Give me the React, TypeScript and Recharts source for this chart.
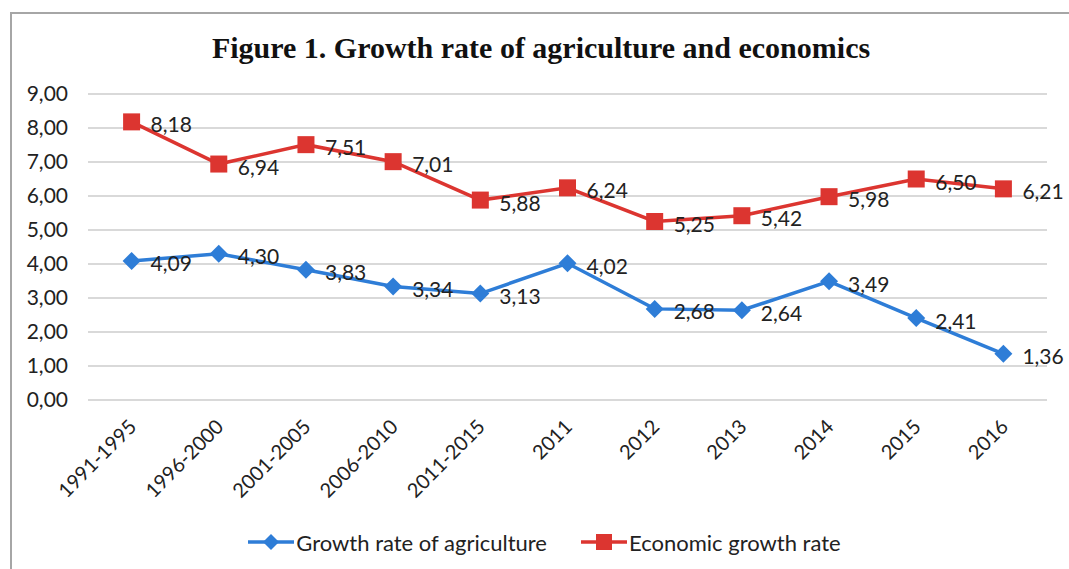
import { LineChart, Line, XAxis, YAxis, CartesianGrid, Legend } from 'recharts';

const periods = ['1991-1995', '1996-2000', '2001-2005', '2006-2010', '2011-2015', '2011', '2012', '2013', '2014', '2015', '2016'];
const agriculture = [4.09, 4.3, 3.83, 3.34, 3.13, 4.02, 2.68, 2.64, 3.49, 2.41, 1.36];
const economy = [8.18, 6.94, 7.51, 7.01, 5.88, 6.24, 5.25, 5.42, 5.98, 6.5, 6.21];
const yTicks = [0, 1, 2, 3, 4, 5, 6, 7, 8, 9];

const BLUE = '#2e7dd7';
const RED = '#dc3530';
const FONT = 'Lato, "Open Sans", sans-serif';

const data = periods.map((p, i) => ({ period: p, agri: agriculture[i], eco: economy[i] }));

const fmt = (v: number) => v.toFixed(2).replace('.', ',');

function Square(props: any) {
    const { cx, cy } = props;
    if (cx == null || cy == null) return null;
    return <rect x={cx - 8.5} y={cy - 8.5} width={17} height={17} fill={RED} />;
}

function Diamond(props: any) {
    const { cx, cy } = props;
    if (cx == null || cy == null) return null;
    const r = 9;
    return <path d={`M${cx},${cy - r} L${cx + r},${cy} L${cx},${cy + r} L${cx - r},${cy} Z`} fill={BLUE} />;
}

function ValueLabel(props: any) {
    const { x, y, value } = props;
    return (
        <text x={x + 19} y={y + 2} dominantBaseline="central" fontSize={21} fill="#222" fontFamily={FONT}>
            {fmt(value)}
        </text>
    );
}

function XTick(props: any) {
    const { x, y, payload } = props;
    const tx = x + 6;
    const ty = y + 20;
    return (
        <text x={tx} y={ty} textAnchor="end" fontSize={20} fill="#222" fontFamily={FONT}
            transform={`rotate(-45, ${tx}, ${ty})`}>
            {payload.value}
        </text>
    );
}

function LegendBox() {
    const item = (color: string, marker: React.ReactNode, text: string) => (
        <div style={{ display: 'flex', alignItems: 'center', marginRight: 34 }}>
            <svg width={46} height={20}>
                <line x1={0} y1={10} x2={46} y2={10} stroke={color} strokeWidth={3.5} />
                {marker}
            </svg>
            <span style={{ fontSize: 22, color: '#222', fontFamily: FONT, marginLeft: 2 }}>{text}</span>
        </div>
    );
    return (
        <div style={{ height: 54, display: 'flex', alignItems: 'center', justifyContent: 'center', paddingLeft: 76 }}>
            {item(BLUE, <path d="M23,2 L31,10 L23,18 L15,10 Z" fill={BLUE} />, 'Growth rate of agriculture')}
            {item(RED, <rect x={15} y={2} width={16} height={16} fill={RED} />, 'Economic growth rate')}
        </div>
    );
}

export default function App() {
    return (
        <div style={{ position: 'absolute', left: 0, top: 0, width: 1069, height: 569, background: '#fff', overflow: 'hidden' }}>
            <div style={{ position: 'absolute', left: 10, top: 12, width: 1100, height: 600, border: '2px solid #a6a6a6' }} />
            <div style={{
                position: 'absolute', left: 0, top: 31, width: 1082, textAlign: 'center',
                fontFamily: '"Liberation Serif", "Times New Roman", serif', fontWeight: 'bold', fontSize: 30, color: '#111',
            }}>
                Figure 1. Growth rate of agriculture and economics
            </div>
            <div style={{ position: 'absolute', left: 0, top: 0 }}>
                <LineChart width={1069} height={569} data={data} margin={{ top: 94, right: 22, bottom: 0, left: 0 }}>
                    <CartesianGrid vertical={false} stroke="#d9d9d9" strokeWidth={2} />
                    <XAxis dataKey="period" scale="point" padding={{ left: 43.6, right: 43.6 }} axisLine={false}
                        tickLine={false} tick={<XTick />} interval={0} height={115} />
                    <YAxis domain={[0, 9]} ticks={yTicks} tickFormatter={fmt} axisLine={false} tickLine={false}
                        tickSize={0} tickMargin={20} width={88} interval={0}
                        tick={{ fontSize: 21, fill: '#222', fontFamily: FONT }} />
                    <Legend verticalAlign="bottom" content={() => <LegendBox />} />
                    <Line dataKey="agri" name="Growth rate of agriculture" stroke={BLUE} strokeWidth={3.5}
                        dot={<Diamond />} activeDot={false} label={<ValueLabel />} isAnimationActive={false} />
                    <Line dataKey="eco" name="Economic growth rate" stroke={RED} strokeWidth={3.5}
                        dot={<Square />} activeDot={false} label={<ValueLabel />} isAnimationActive={false} />
                </LineChart>
            </div>
        </div>
    );
}
